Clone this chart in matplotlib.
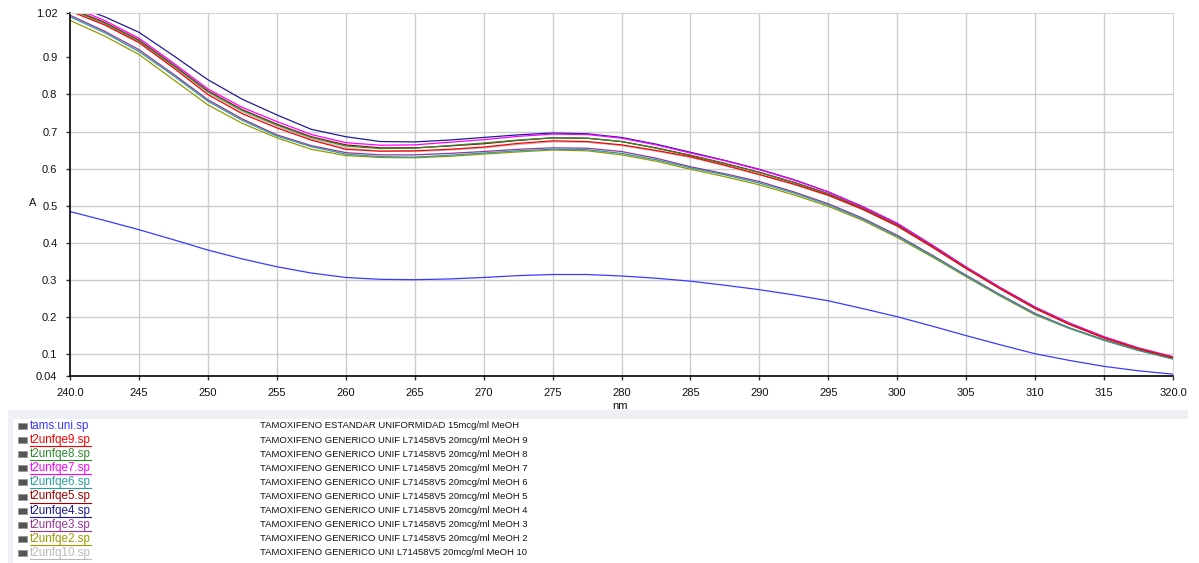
import matplotlib
matplotlib.use('Agg')
import matplotlib.pyplot as plt
from matplotlib.patches import Rectangle
from matplotlib.lines import Line2D

plt.rcParams['font.family'] = ['Liberation Sans', 'DejaVu Sans']

wl = [240, 242.5, 245, 247.5, 250, 252.5, 255, 257.5, 260, 262.5, 265, 267.5, 270, 272.5,
      275, 277.5, 280, 282.5, 285, 287.5, 290, 292.5, 295, 297.5, 300, 302.5, 305, 307.5,
      310, 312.5, 315, 317.5, 320]

tams_uni = [0.484, 0.460, 0.435, 0.408, 0.380, 0.356, 0.335, 0.318, 0.306, 0.301, 0.300, 0.302, 0.306, 0.311,
            0.314, 0.314, 0.310, 0.304, 0.296, 0.285, 0.273, 0.259, 0.243, 0.222, 0.200, 0.175, 0.149, 0.124,
            0.100, 0.082, 0.066, 0.054, 0.045]
fqe9 = [1.025, 0.988, 0.940, 0.872, 0.800, 0.748, 0.710, 0.677, 0.652, 0.647, 0.648, 0.652, 0.658, 0.668,
        0.675, 0.673, 0.664, 0.649, 0.632, 0.609, 0.584, 0.558, 0.528, 0.490, 0.445, 0.389, 0.330, 0.275,
        0.222, 0.179, 0.143, 0.113, 0.090]
fqe8 = [1.030, 0.993, 0.945, 0.878, 0.808, 0.757, 0.718, 0.684, 0.661, 0.654, 0.655, 0.662, 0.669, 0.677,
        0.683, 0.682, 0.673, 0.655, 0.635, 0.613, 0.589, 0.562, 0.531, 0.492, 0.447, 0.390, 0.331, 0.275,
        0.223, 0.180, 0.143, 0.114, 0.090]
fqe7 = [1.038, 1.000, 0.952, 0.885, 0.815, 0.765, 0.727, 0.692, 0.670, 0.663, 0.664, 0.671, 0.678, 0.687,
        0.693, 0.692, 0.682, 0.664, 0.642, 0.621, 0.597, 0.569, 0.537, 0.497, 0.452, 0.394, 0.334, 0.278,
        0.226, 0.183, 0.146, 0.116, 0.092]
fqe6 = [1.010, 0.967, 0.916, 0.851, 0.782, 0.730, 0.688, 0.659, 0.639, 0.632, 0.631, 0.636, 0.642, 0.648,
        0.652, 0.651, 0.641, 0.624, 0.602, 0.583, 0.561, 0.534, 0.502, 0.463, 0.417, 0.365, 0.310, 0.257,
        0.207, 0.169, 0.137, 0.109, 0.086]
fqe5 = [1.032, 0.995, 0.947, 0.880, 0.810, 0.759, 0.720, 0.686, 0.664, 0.656, 0.656, 0.661, 0.667, 0.676,
        0.683, 0.682, 0.673, 0.656, 0.636, 0.614, 0.590, 0.563, 0.532, 0.493, 0.448, 0.391, 0.332, 0.276,
        0.224, 0.181, 0.144, 0.114, 0.091]
fqe4 = [1.045, 1.010, 0.968, 0.905, 0.840, 0.787, 0.745, 0.706, 0.686, 0.673, 0.672, 0.677, 0.684, 0.691,
        0.696, 0.694, 0.684, 0.666, 0.644, 0.622, 0.598, 0.570, 0.537, 0.497, 0.452, 0.394, 0.334, 0.278,
        0.226, 0.182, 0.145, 0.115, 0.090]
fqe3 = [1.014, 0.971, 0.921, 0.855, 0.786, 0.734, 0.691, 0.662, 0.643, 0.637, 0.637, 0.641, 0.646, 0.652,
        0.656, 0.655, 0.646, 0.628, 0.605, 0.586, 0.565, 0.537, 0.505, 0.466, 0.420, 0.367, 0.312, 0.259,
        0.209, 0.170, 0.138, 0.110, 0.087]
fqe2 = [1.000, 0.958, 0.908, 0.840, 0.772, 0.722, 0.683, 0.652, 0.635, 0.630, 0.629, 0.633, 0.639, 0.645,
        0.650, 0.648, 0.637, 0.620, 0.598, 0.578, 0.556, 0.529, 0.498, 0.460, 0.414, 0.362, 0.308, 0.255,
        0.205, 0.168, 0.136, 0.109, 0.086]
fq10 = [1.028, 0.990, 0.942, 0.875, 0.805, 0.753, 0.715, 0.680, 0.656, 0.647, 0.646, 0.650, 0.656, 0.665,
        0.672, 0.671, 0.662, 0.647, 0.630, 0.608, 0.583, 0.557, 0.527, 0.489, 0.444, 0.388, 0.330, 0.274,
        0.222, 0.179, 0.142, 0.113, 0.090]

files = ['tams:uni.sp', 't2unfqe9.sp', 't2unfqe8.sp', 't2unfqe7.sp', 't2unfqe6.sp',
         't2unfqe5.sp', 't2unfqe4.sp', 't2unfqe3.sp', 't2unfqe2.sp', 't2unfq10.sp']
descr = ['TAMOXIFENO ESTANDAR UNIFORMIDAD 15mcg/ml MeOH',
         'TAMOXIFENO GENERICO UNIF L71458V5 20mcg/ml MeOH 9',
         'TAMOXIFENO GENERICO UNIF L71458V5 20mcg/ml MeOH 8',
         'TAMOXIFENO GENERICO UNIF L71458V5 20mcg/ml MeOH 7',
         'TAMOXIFENO GENERICO UNIF L71458V5 20mcg/ml MeOH 6',
         'TAMOXIFENO GENERICO UNIF L71458V5 20mcg/ml MeOH 5',
         'TAMOXIFENO GENERICO UNIF L71458V5 20mcg/ml MeOH 4',
         'TAMOXIFENO GENERICO UNIF L71458V5 20mcg/ml MeOH 3',
         'TAMOXIFENO GENERICO UNIF L71458V5 20mcg/ml MeOH 2',
         'TAMOXIFENO GENERICO UNI L71458V5 20mcg/ml MeOH 10']
series = [tams_uni, fqe9, fqe8, fqe7, fqe6, fqe5, fqe4, fqe3, fqe2, fq10]
colors = ['#3a3aff', '#ff0000', '#2e8b2e', '#ff00ff', '#2a9d9d',
          '#a00000', '#1c1c96', '#993399', '#999900', '#b8b8b8']

xticks = [240, 245, 250, 255, 260, 265, 270, 275, 280, 285, 290, 295, 300, 305, 310, 315, 320]
xlabels = ['240.0'] + [str(t) for t in xticks[1:-1]] + ['320.0']
yticks = [0.04, 0.1, 0.2, 0.3, 0.4, 0.5, 0.6, 0.7, 0.8, 0.9, 1.02]
ylabels = ['0.04', '0.1', '0.2', '0.3', '0.4', '0.5', '0.6', '0.7', '0.8', '0.9', '1.02']

W, H = 1199, 563
fig = plt.figure(figsize=(W / 100, H / 100), dpi=100)
ax = fig.add_axes([70 / W, 1 - 376 / H, (1173 - 70) / W, (376 - 13) / H])

for x in xticks[1:-1]:
    ax.axvline(x, color='#cccccc', lw=1, zorder=0)
for y in [0.1, 0.2, 0.3, 0.4, 0.5, 0.6, 0.7, 0.8]:
    ax.axhline(y, color='#cccccc', lw=1, zorder=0)

# draw in reverse so the first file ends on top
for vals, c in reversed(list(zip(series, colors))):
    ax.plot(wl, vals, color=c, lw=0.9)

ax.set_xlim(240, 320)
ax.set_ylim(0.04, 1.02)
ax.set_xticks(xticks)
ax.set_xticklabels(xlabels, fontsize=8, color='#111111')
ax.set_yticks(yticks)
ax.set_yticklabels(ylabels, fontsize=8, color='#111111')
ax.tick_params(length=3, width=1, color='#333333', pad=6)
for s in ['top', 'right']:
    ax.spines[s].set_color('#d4d4d4')
for s in ['left', 'bottom']:
    ax.spines[s].set_color('#000000')
    ax.spines[s].set_linewidth(1.2)

fig.text(620 / W, 1 - 406 / H, 'nm', fontsize=8, ha='center', va='center', color='#111111')
fig.text(33 / W, 1 - 203 / H, 'A', fontsize=8, ha='center', va='center', color='#111111')

# legend panel below the chart
fig.patches.append(Rectangle((8 / W, 0), (1188 - 8) / W, 1 - 410 / H,
                             transform=fig.transFigure, facecolor='#eef0f5', edgecolor='none'))
fig.patches.append(Rectangle((13 / W, 0), (1188 - 13) / W, 1 - 419 / H,
                             transform=fig.transFigure, facecolor='white', edgecolor='none'))

fig.canvas.draw()
renderer = fig.canvas.get_renderer()
for i, (f, d, c) in enumerate(zip(files, descr, colors)):
    yc = 426 + i * 14.1
    fig.patches.append(Rectangle((18 / W, 1 - (yc + 3) / H), 9 / W, 6 / H,
                                 transform=fig.transFigure, facecolor='#555555',
                                 edgecolor='#999999', lw=0.6))
    t = fig.text(30 / W, 1 - yc / H, f, fontsize=8.4, color=c, va='center', ha='left')
    fig.text(260 / W, 1 - yc / H, d, fontsize=6.8, color='#111111', va='center', ha='left')
    if i > 0:
        bb = t.get_window_extent(renderer)
        uy = 1 - (yc + 6) / H
        fig.lines.append(Line2D([bb.x0 / W, bb.x1 / W], [uy, uy], transform=fig.transFigure,
                                color=c, lw=0.8))

fig.savefig('out.png', dpi=100)
